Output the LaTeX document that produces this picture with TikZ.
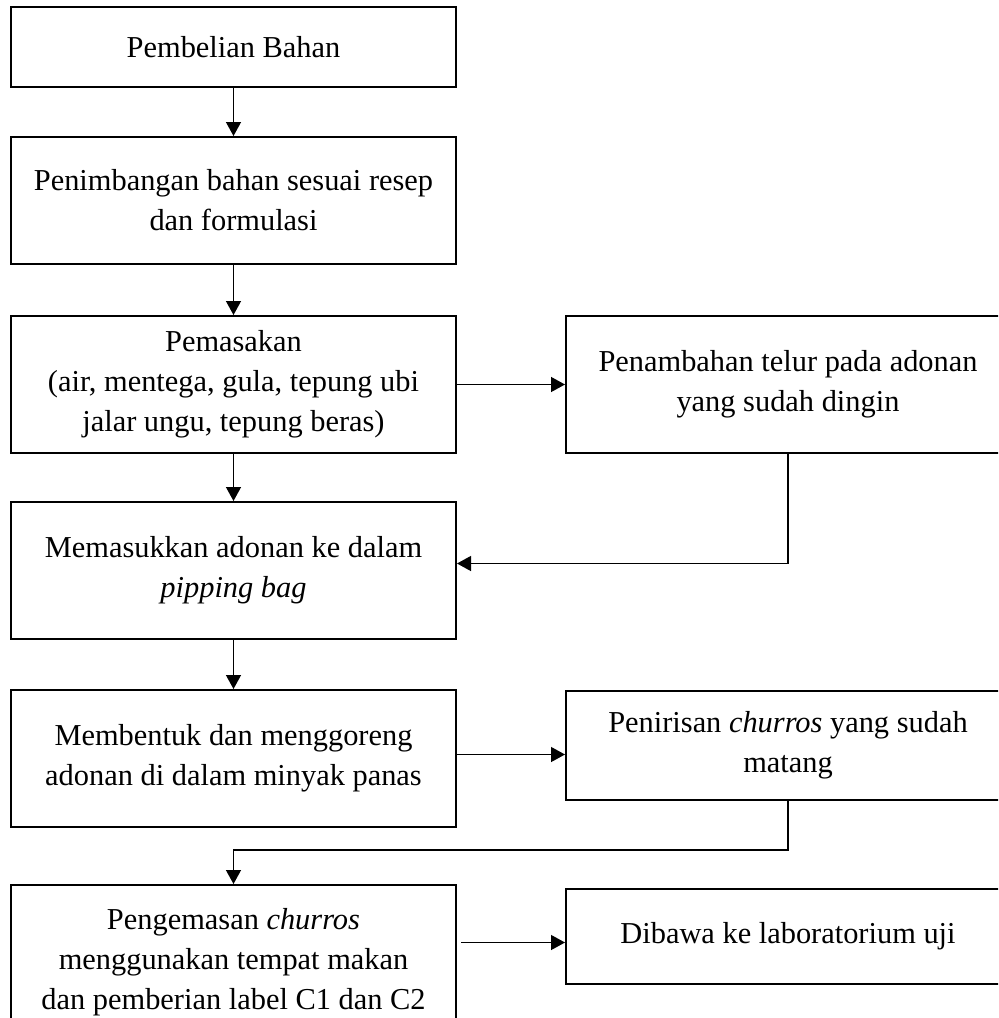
\documentclass[tikz,border=0pt]{standalone}
\usepackage{fontspec}
\setmainfont{Liberation Serif}
\usetikzlibrary{arrows.meta,positioning}

\begin{document}
\begin{tikzpicture}[>={Triangle[length=7pt,width=7.5pt]},node distance=24pt,
    langkah/.style={draw,line width=1pt,minimum width=222.5pt,align=center,
      inner sep=2pt,font=\fontsize{15.2}{20}\selectfont},
    alur/.style={->,line width=0.65pt}]
    \path[use as bounding box,clip] (0,0) rectangle (499pt,-509pt);

    \node[langkah,minimum height=40pt] (beli) at (116.75pt,-23.5pt) {Pembelian Bahan};
    \node[langkah,minimum height=63.5pt] (timbang) [below=of beli] {Penimbangan bahan sesuai resep\\dan formulasi};
    \node[langkah,minimum height=68.5pt] (masak) [below=25pt of timbang] {Pemasakan\\(air, mentega, gula, tepung ubi\\jalar ungu, tepung beras)};
    \node[langkah,minimum width=222pt,minimum height=68.5pt] (tambah) [right=54pt of masak] {Penambahan telur pada adonan\\yang sudah dingin};
    \node[langkah,minimum height=68.5pt] (pipping) [below=23.5pt of masak] {Memasukkan adonan ke dalam\\\textit{pipping bag}};
    \node[langkah,minimum height=68.5pt] (goreng) [below=24.5pt of pipping] {Membentuk dan menggoreng\\adonan di dalam minyak panas};
    \node[langkah,minimum width=222pt,minimum height=54.5pt] (tiris) [right=54pt of goreng.north east,anchor=north west,yshift=-0.5pt] {Penirisan \textit{churros} yang sudah\\matang};
    \node[langkah,minimum height=77pt] (kemas) [below=28pt of goreng] {Pengemasan \textit{churros}\\menggunakan tempat makan\\dan pemberian label C1 dan C2};
    \node[langkah,minimum width=222pt,minimum height=47.5pt] (bawa) [right=54pt of kemas.north east,anchor=north west,yshift=-2pt] {Dibawa ke laboratorium uji};

    \draw[alur] (beli) -- (timbang);
    \draw[alur] (timbang) -- (masak);
    \draw[alur] (masak) -- (tambah);
    \draw[alur] (masak) -- (pipping);
    \draw[alur] (tambah.south) |- ([yshift=3.5pt]pipping.east);
    \draw[alur] (pipping) -- (goreng);
    \draw[alur] ([yshift=2pt]goreng.east) -- ([yshift=2pt]goreng.east -| tiris.west);
    \draw[alur] (tiris.south) -- ++(0,-24.5pt) -| (kemas.north);
    \draw[alur,shorten <=2pt] ([yshift=-3pt]bawa.west -| kemas.east) -- ([yshift=-3pt]bawa.west);
\end{tikzpicture}
\end{document}
